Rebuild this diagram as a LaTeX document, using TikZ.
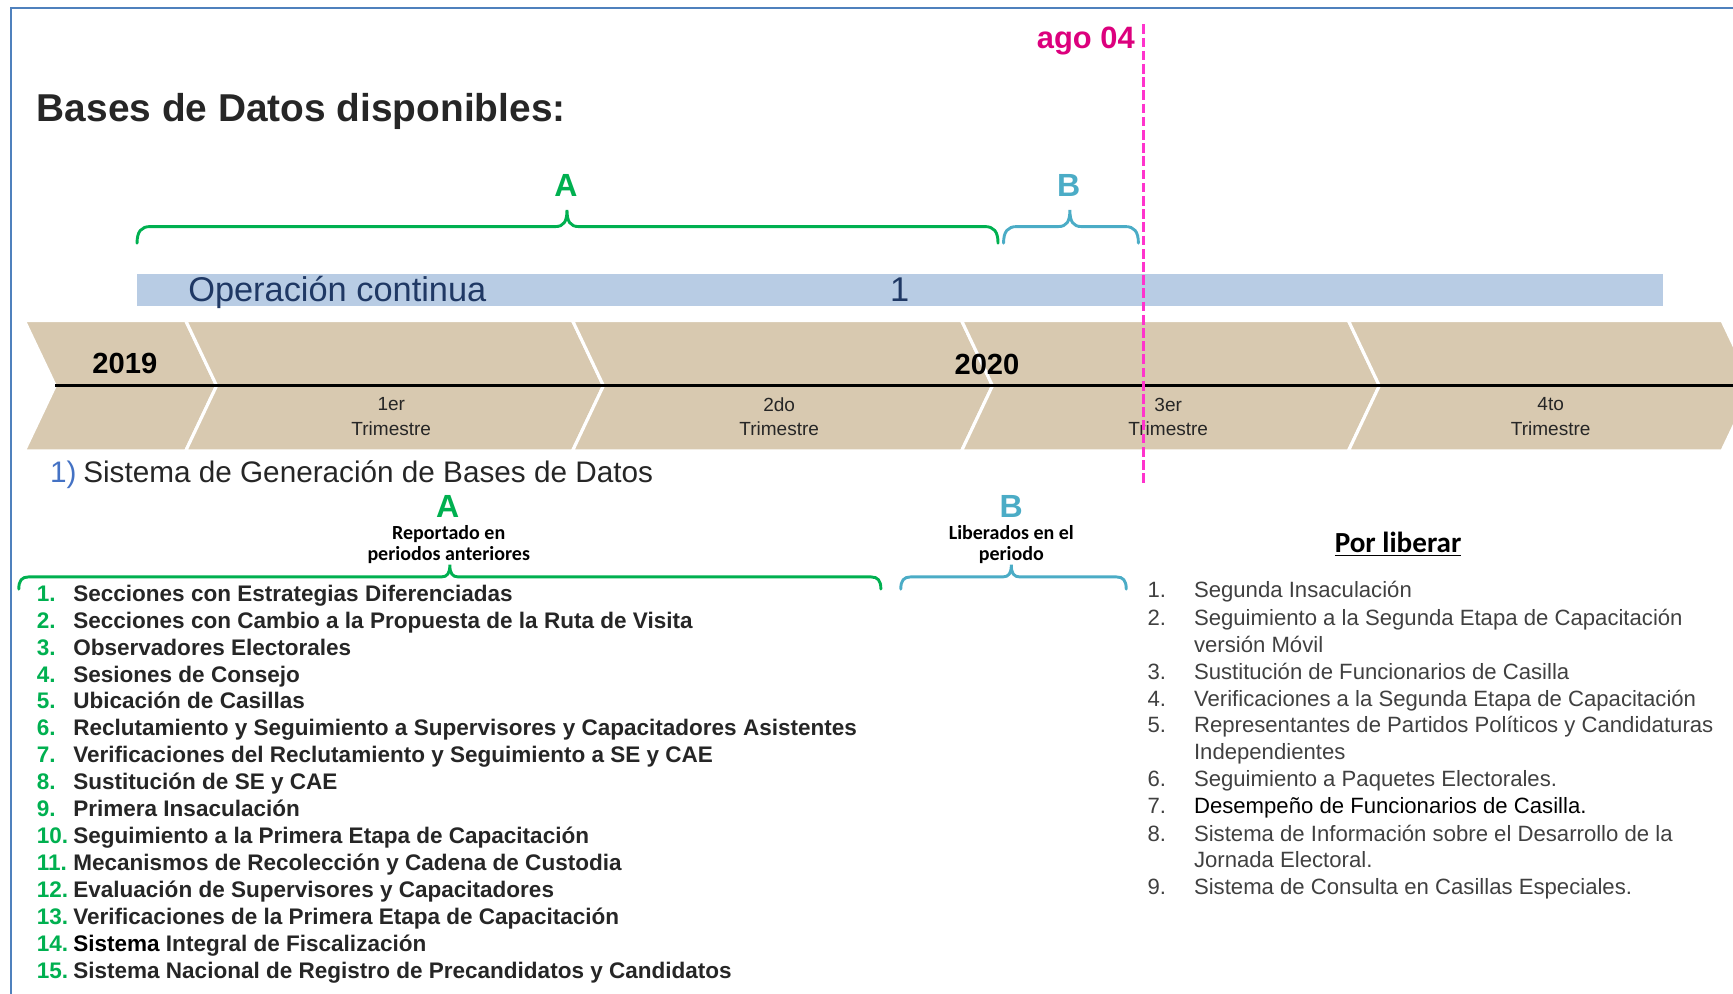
\documentclass[tikz,border=0pt]{standalone}
\usepackage{fontspec}
\setmainfont{Liberation Sans}
\newfontfamily\calibfont{Carlito}

\definecolor{frameblue}{RGB}{79,129,189}
\definecolor{bracegreen}{RGB}{0,176,80}
\definecolor{braceblue}{RGB}{75,172,198}
\definecolor{barblue}{RGB}{184,204,228}
\definecolor{navytext}{RGB}{31,56,100}
\definecolor{chevtan}{RGB}{216,201,176}
\definecolor{cutpink}{RGB}{255,51,204}
\definecolor{agopink}{RGB}{220,0,125}
\definecolor{numblue}{RGB}{68,114,196}
\definecolor{darktext}{RGB}{38,38,38}
\definecolor{graytext}{RGB}{64,64,64}

% colour, left x, tip x, right x, y, height
\newcommand{\upbrace}[6]{%
  \draw[#1, line width=1.5pt, line cap=round]
    (#2,#5+#6) .. controls (#2,#5+0.3*#6) and (#2+0.25*#6,#5) .. (#2+0.8*#6,#5)
    -- (#3-0.7*#6,#5) .. controls (#3-0.2*#6,#5) and (#3,#5-0.3*#6) .. (#3,#5-#6)
    .. controls (#3,#5-0.3*#6) and (#3+0.2*#6,#5) .. (#3+0.7*#6,#5)
    -- (#4-0.8*#6,#5) .. controls (#4-0.25*#6,#5) and (#4,#5+0.3*#6) .. (#4,#5+#6);}

\tikzset{
  chevron/.style={fill=chevtan, draw=white, line width=1.6pt, line join=miter},
  quarter/.style={font=\fontsize{9.8}{12.5}\selectfont, text=darktext, align=center, inner sep=0pt},
  yearlbl/.style={font=\fontsize{15}{18}\selectfont\bfseries, anchor=base, inner sep=0pt},
  bracelbl/.style={font=\fontsize{16.5}{20}\selectfont\bfseries, anchor=base, inner sep=0pt},
  notelbl/.style={font=\calibfont\bfseries\fontsize{10.3}{10.8}\selectfont, align=center, inner sep=0pt},
  leftnum/.style={font=\fontsize{11.6}{14}\selectfont\bfseries, text=bracegreen, anchor=base west, inner sep=0pt},
  leftitem/.style={font=\fontsize{11.6}{14}\selectfont\bfseries, text=darktext, anchor=base west, inner sep=0pt},
  rightitem/.style={font=\fontsize{11.4}{14}\selectfont, text=graytext, anchor=base west, inner sep=0pt},
}

\begin{document}
\begin{tikzpicture}[x=0.02cm, y=-0.02cm]
  \useasboundingbox (0,0) rectangle (1568,899);
  \clip (0,0) rectangle (1568,899);
  \draw[frameblue, line width=0.9pt] (10,899) -- (10,7) -- (1568,7);

  \node[font=\fontsize{20}{24}\selectfont\bfseries, text=darktext, anchor=base west, inner sep=0pt] (title) at (33,110) {Bases de Datos disponibles:};
  \node[font=\fontsize{15.9}{19}\selectfont\bfseries, text=agopink, anchor=base east, inner sep=0pt] (ago) at (1027,44) {ago 04};

  % periodos A y B
  \upbrace{bracegreen}{124}{513}{903}{205}{15}
  \upbrace{braceblue}{908}{968}{1030}{205}{15}
  \node[bracelbl, text=bracegreen] (topA) at (512,178) {A};
  \node[bracelbl, text=braceblue] (topB) at (967,178) {B};

  \fill[barblue] (124,248) rectangle (1505,277);
  \node[font=\fontsize{17.7}{21}\selectfont, text=navytext, anchor=base west, inner sep=0pt] (opcont) at (170,273) {Operación continua};
  \node[font=\fontsize{17.7}{21}\selectfont, text=navytext, anchor=base, inner sep=0pt] (opnum) at (814,273) {1};

  % linea de tiempo
  \foreach \a/\b in {22/168,168/518,518/870,870/1220,1220/1558}
    \path[chevron] (\a,290) -- (\b,290) -- (\b+28,349) -- (\b,408) -- (\a,408) -- (\a+28,349) -- cycle;
  \draw[line width=1.3pt] (50,349) -- (1568,349);
  \node[yearlbl] (y2019) at (113,338) {2019};
  \node[yearlbl] (y2020) at (893,339) {2020};
  \node[quarter] (q1) at (354,377) {1er\\Trimestre};
  \node[quarter] (q2) at (705,377) {2do\\Trimestre};
  \node[quarter] (q3) at (1057,377) {3er\\Trimestre};
  \node[quarter] (q4) at (1403,377) {4to\\Trimestre};

  \node[font=\fontsize{15.3}{18}\selectfont, text=numblue, anchor=base west, inner sep=0pt] (sgnum) at (45,437) {1)};
  \node[font=\fontsize{15.3}{18}\selectfont, text=darktext, anchor=base west, inner sep=0pt] (sgbd) at (75,437) {Sistema de Generación de Bases de Datos};

  \node[bracelbl, text=bracegreen] (lowA) at (405,468) {A};
  \node[notelbl] (noteA) at (406,493) {Reportado en\\periodos anteriores};
  \upbrace{bracegreen}{17}{407}{797}{522}{11}
  \node[bracelbl, text=braceblue] (lowB) at (915,468) {B};
  \node[notelbl] (noteB) at (915,493) {Liberados en el\\periodo};
  \upbrace{braceblue}{815}{915}{1019}{522}{11}

  \foreach \txt [count=\i] in {Secciones con Estrategias Diferenciadas,
      Secciones con Cambio a la Propuesta de la Ruta de Visita,
      Observadores Electorales, Sesiones de Consejo, Ubicación de Casillas,
      Reclutamiento y Seguimiento a Supervisores y Capacitadores Asistentes,
      Verificaciones del Reclutamiento y Seguimiento a SE y CAE,
      Sustitución de SE y CAE, Primera Insaculación,
      Seguimiento a la Primera Etapa de Capacitación,
      Mecanismos de Recolección y Cadena de Custodia,
      Evaluación de Supervisores y Capacitadores,
      Verificaciones de la Primera Etapa de Capacitación,
      \textcolor{black}{Sistema} Integral de Fiscalización,
      Sistema Nacional de Registro de Precandidatos y Candidatos}{
    \node[leftnum] (ln\i) at (33,{544+(\i-1)*24.37}) {\i.};
    \node[leftitem] (li\i) at (66,{544+(\i-1)*24.37}) {\txt};
  }

  \node[font=\calibfont\bfseries\fontsize{15}{18}\selectfont, anchor=base, inner sep=0pt] (porlib) at (1265,500) {\underline{Por liberar}};
  \foreach \y/\n/\txt [count=\j] in {541/1./Segunda Insaculación,
      566/2./Seguimiento a la Segunda Etapa de Capacitación,
      590//versión Móvil,
      615/3./Sustitución de Funcionarios de Casilla,
      639/4./Verificaciones a la Segunda Etapa de Capacitación,
      663/5./Representantes de Partidos Políticos y Candidaturas,
      687//Independientes,
      712/6./Seguimiento a Paquetes Electorales.,
      736/7./\textcolor{black}{Desempeño de Funcionarios de Casilla.},
      761/8./Sistema de Información sobre el Desarrollo de la,
      785//Jornada Electoral.,
      809/9./Sistema de Consulta en Casillas Especiales.}{
    \node[rightitem] (rn\j) at (1038,\y) {\n};
    \node[rightitem] (ri\j) at (1080,\y) {\txt};
  }

  % corte
  \draw[cutpink, line width=1.5pt, dash pattern=on 5pt off 1.8pt] (1035,22) -- (1035,440);
\end{tikzpicture}
\end{document}
